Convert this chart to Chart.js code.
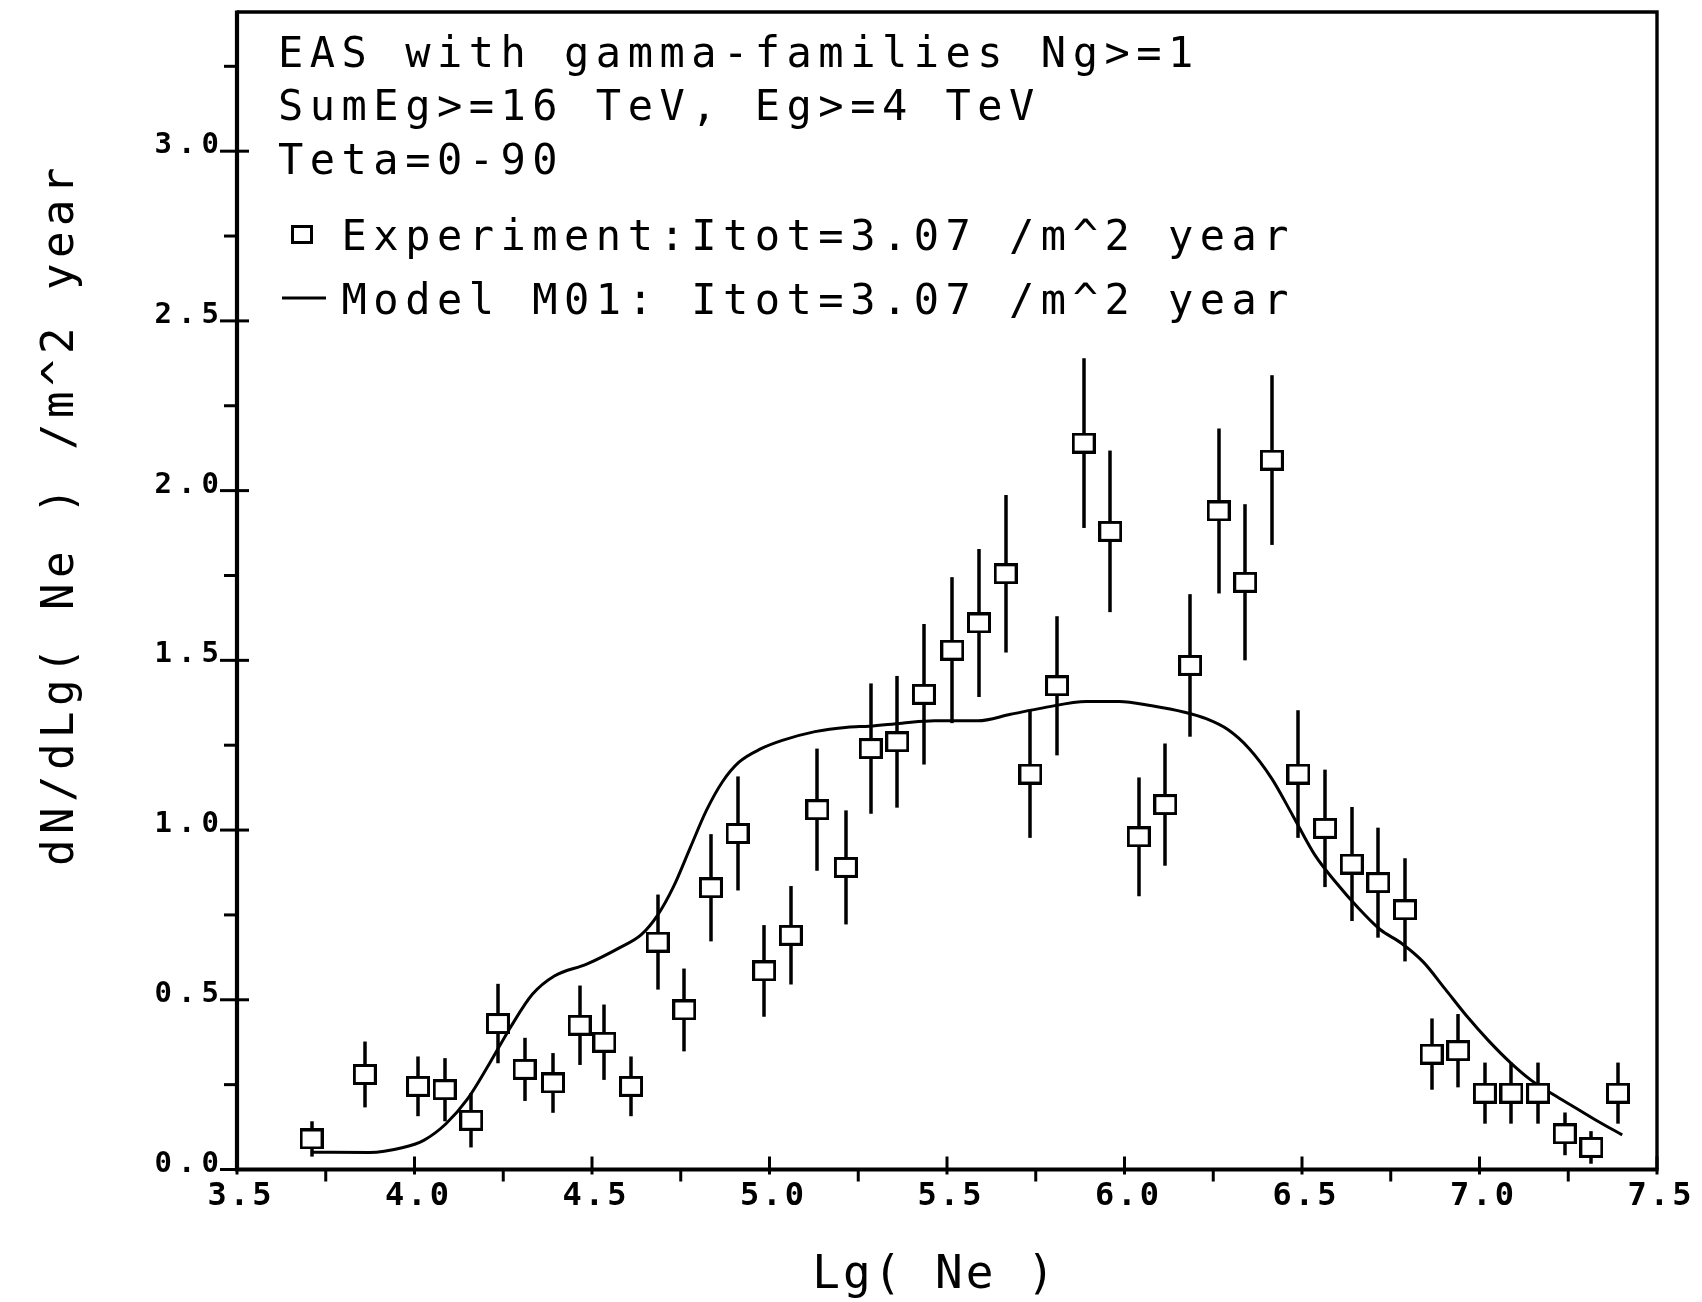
<!DOCTYPE html>
<html><head><meta charset="utf-8">
<script src="https://cdn.jsdelivr.net/npm/chart.js@4/dist/chart.umd.min.js"></script>
<style>html,body{margin:0;padding:0;background:#fff;overflow:hidden}canvas{display:block}</style>
</head><body>
<canvas id="c" width="1702" height="1302"></canvas>
<script>
// Experimental points: lg(Ne), dN/dlg(Ne), error
const expX = [3.71,3.86,4.01,4.085,4.16,4.235,4.31,4.39,4.465,4.535,4.61,4.685,4.76,4.835,4.91,4.985,5.06,5.135,5.215,5.285,5.36,5.435,5.515,5.59,5.665,5.735,5.81,5.885,5.96,6.04,6.115,6.185,6.265,6.34,6.415,6.49,6.565,6.64,6.715,6.79,6.865,6.94,7.015,7.09,7.165,7.24,7.315,7.39];
const expY = [0.09,0.28,0.245,0.235,0.145,0.43,0.295,0.255,0.425,0.375,0.245,0.67,0.47,0.83,0.99,0.585,0.69,1.06,0.89,1.24,1.26,1.40,1.53,1.61,1.755,1.165,1.425,2.14,1.88,0.98,1.075,1.485,1.94,1.73,2.09,1.165,1.005,0.90,0.845,0.765,0.34,0.35,0.225,0.225,0.225,0.105,0.065,0.225];
const expErr = [0.052,0.097,0.088,0.093,0.08,0.117,0.093,0.088,0.117,0.111,0.088,0.14,0.122,0.158,0.168,0.135,0.145,0.18,0.168,0.192,0.194,0.207,0.215,0.218,0.232,0.188,0.205,0.25,0.238,0.175,0.18,0.21,0.243,0.23,0.25,0.188,0.173,0.168,0.162,0.152,0.105,0.108,0.09,0.09,0.09,0.063,0.048,0.09];
// Model M01 curve
const modelX = [3.711,3.873,3.965,4.026,4.088,4.149,4.210,4.271,4.332,4.394,4.485,4.577,4.638,4.684,4.730,4.776,4.822,4.868,4.914,4.975,5.036,5.128,5.220,5.281,5.373,5.465,5.587,5.679,5.771,5.893,5.985,6.077,6.169,6.230,6.291,6.352,6.414,6.475,6.536,6.597,6.658,6.720,6.781,6.842,6.903,6.964,7.026,7.087,7.148,7.209,7.270,7.332,7.402];
const modelY = [0.051,0.05,0.064,0.086,0.134,0.207,0.31,0.42,0.516,0.57,0.605,0.653,0.691,0.748,0.834,0.946,1.057,1.143,1.2,1.239,1.264,1.29,1.303,1.306,1.315,1.322,1.322,1.341,1.36,1.379,1.379,1.366,1.347,1.328,1.296,1.239,1.153,1.041,0.927,0.844,0.771,0.707,0.666,0.611,0.532,0.452,0.379,0.315,0.261,0.22,0.182,0.143,0.102];
// Axis ticks
const xTickLabels = ['3.5','4.0','4.5','5.0','5.5','6.0','6.5','7.0','7.5'];
const yTickLabels = ['0.0','0.5','1.0','1.5','2.0','2.5','3.0'];
const xMinorTicks = [3.75,4.25,4.75,5.25,5.75,6.25,6.75,7.25];
const yMinorTicks = [0.25,0.75,1.25,1.75,2.25,2.75,3.25];
// Texts
const infoLines = ['EAS with gamma-families Ng>=1','SumEg>=16 TeV, Eg>=4 TeV','Teta=0-90'];
const legendExp = 'Experiment:Itot=3.07 /m^2 year';
const legendModel = 'Model M01: Itot=3.07 /m^2 year';
const xTitle = 'Lg( Ne )';
const yTitle = 'dN/dLg( Ne ) /m^2 year';

const sq = document.createElement('canvas');
sq.width = 24; sq.height = 21;
(function(){const c=sq.getContext('2d');c.fillStyle='#fff';c.fillRect(0,0,24,21);c.strokeStyle='#000';c.lineWidth=3;c.strokeRect(1.5,1.5,21,18);})();

const deco = {
  id:'deco',
  beforeDatasetsDraw(chart){
    const ctx=chart.ctx, xs=chart.scales.x, ys=chart.scales.y;
    ctx.save();
    ctx.strokeStyle='#000'; ctx.lineWidth=3.5; ctx.lineCap='butt';
    for(let i=0;i<expX.length;i++){
      const px=Math.round(xs.getPixelForValue(expX[i]));
      ctx.beginPath();
      ctx.moveTo(px, ys.getPixelForValue(expY[i]+expErr[i]));
      ctx.lineTo(px, ys.getPixelForValue(Math.max(0,expY[i]-expErr[i])));
      ctx.stroke();
    }
    ctx.restore();
  },
  afterDraw(chart){
    const ctx=chart.ctx, xs=chart.scales.x, ys=chart.scales.y, a=chart.chartArea;
    ctx.save();
    ctx.strokeStyle='#000'; ctx.fillStyle='#000';
    // frame
    ctx.lineWidth=3.4;
    ctx.beginPath();
    ctx.moveTo(a.left,a.top); ctx.lineTo(a.right,a.top); ctx.lineTo(a.right,a.bottom);
    ctx.stroke();
    ctx.lineWidth=4.2;
    ctx.beginPath();
    ctx.moveTo(a.left,a.top-1.5); ctx.lineTo(a.left,a.bottom); ctx.lineTo(a.right+1.5,a.bottom);
    ctx.stroke();
    // ticks
    ctx.lineWidth=3;
    yTickLabels.forEach(t=>{const y=ys.getPixelForValue(parseFloat(t));ctx.beginPath();ctx.moveTo(a.left-17,y);ctx.lineTo(a.left+12,y);ctx.stroke();});
    yMinorTicks.forEach(v=>{const y=ys.getPixelForValue(v);ctx.beginPath();ctx.moveTo(a.left-13,y);ctx.lineTo(a.left,y);ctx.stroke();});
    xTickLabels.forEach(t=>{const x=xs.getPixelForValue(parseFloat(t));ctx.beginPath();ctx.moveTo(x,a.bottom-13);ctx.lineTo(x,a.bottom+5);ctx.stroke();});
    xMinorTicks.forEach(v=>{const x=xs.getPixelForValue(v);ctx.beginPath();ctx.moveTo(x,a.bottom);ctx.lineTo(x,a.bottom+12);ctx.stroke();});
    // tick labels
    ctx.font='bold 29px "DejaVu Sans Mono"';
    ctx.letterSpacing='6px';
    ctx.textAlign='right'; ctx.textBaseline='alphabetic';
    yTickLabels.forEach(t=>{const y=ys.getPixelForValue(parseFloat(t));ctx.fillText(t,a.left-18+6,y+2);});
    ctx.font='bold 32px "DejaVu Sans Mono"';
    ctx.letterSpacing='3px';
    ctx.textAlign='center';
    xTickLabels.forEach(t=>{const x=xs.getPixelForValue(parseFloat(t));ctx.fillText(t,x+4,a.bottom+35);});
    // info text
    ctx.font='42px "DejaVu Sans Mono"';
    ctx.letterSpacing='6.5px';
    ctx.textAlign='left';
    const tx=278;
    const bl=[67,120,174];
    infoLines.forEach((s,i)=>ctx.fillText(s,tx,bl[i]));
    ctx.fillText('  '+legendExp,tx,250);
    ctx.fillText('  '+legendModel,tx,314);
    // legend markers
    ctx.lineWidth=3;
    ctx.strokeRect(292.5,226.5,19,16);
    ctx.beginPath(); ctx.moveTo(282,298); ctx.lineTo(326,298); ctx.stroke();
    // axis titles
    ctx.font='46px "DejaVu Sans Mono"';
    ctx.letterSpacing='3px';
    ctx.textAlign='center';
    ctx.fillText(xTitle,935,1288);
    ctx.translate(73,514);
    ctx.rotate(-Math.PI/2);
    ctx.font='44px "DejaVu Sans Mono"';
    ctx.letterSpacing='5.5px';
    ctx.fillText(yTitle,0,0);
    ctx.restore();
  }
};

new Chart(document.getElementById('c'),{
  type:'scatter',
  data:{datasets:[
    {label:'Experiment', data:expX.map((x,i)=>({x,y:expY[i]})), pointStyle:sq, pointRadius:11, showLine:false, order:0},
    {type:'line', label:'Model M01', data:modelX.map((x,i)=>({x,y:modelY[i]})), borderColor:'#000', borderWidth:3, pointRadius:0, fill:false, cubicInterpolationMode:'monotone', order:1}
  ]},
  options:{
    responsive:false, animation:false, devicePixelRatio:1,
    layout:{padding:{left:237,right:45,top:10,bottom:132.5}},
    plugins:{legend:{display:false},tooltip:{enabled:false}},
    events:[],
    scales:{
      x:{type:'linear',display:false,min:3.5,max:7.5},
      y:{type:'linear',display:false,min:0,max:3.41}
    }
  },
  plugins:[deco]
});
</script>
</body></html>
